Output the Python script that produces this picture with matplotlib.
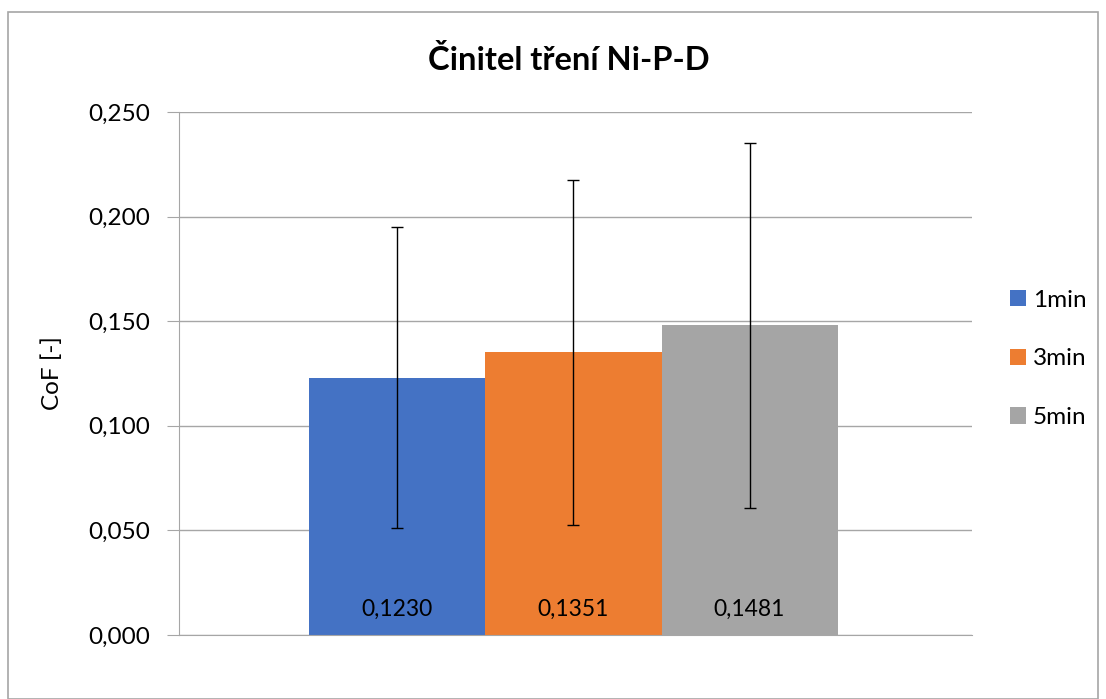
import matplotlib.pyplot as plt
from matplotlib.patches import Rectangle
from matplotlib.ticker import FuncFormatter

plt.rcParams["font.family"] = ["Lato", "DejaVu Sans"]

# data
series = ["1min", "3min", "5min"]
values = [0.1230, 0.1351, 0.1481]
errors = [0.0720, 0.0825, 0.0873]
colors = ["#4472C4", "#ED7D31", "#A5A5A5"]
yticks = [0.0, 0.05, 0.10, 0.15, 0.20, 0.25]

title = "Činitel tření Ni-P-D"
ylabel = "CoF [-]"


def comma_fmt(v, _pos=None, digits=3):
    return f"{v:.{digits}f}".replace(".", ",")


fig = plt.figure(figsize=(11.06, 6.99), dpi=100)
ax = fig.add_axes([179 / 1106, 1 - 635 / 699, (972 - 179) / 1106, (635 - 112) / 699])

width = 0.22
offsets = [-width, 0.0, width]
for name, val, err, col, off in zip(series, values, errors, colors, offsets):
    ax.bar(off, val, width=width, color=col, label=name, zorder=2)
    ax.errorbar(off, val, yerr=err, fmt="none", ecolor="black", elinewidth=1.0,
                capsize=4, capthick=1.0, zorder=3)
    ax.text(off, 0.0125, comma_fmt(val, digits=4), ha="center", va="center",
            fontsize=16.5, color="#000000", zorder=4)

ax.set_xlim(-0.493, 0.498)
ax.set_ylim(0, 0.25)
ax.set_yticks(yticks)
ax.yaxis.set_major_formatter(FuncFormatter(comma_fmt))
ax.set_xticks([])
ax.grid(axis="y", color="#A6A6A6", linewidth=1.0, zorder=0)
for side in ["top", "right"]:
    ax.spines[side].set_visible(False)
ax.spines["left"].set_color("#A6A6A6")
ax.spines["bottom"].set_color("#A6A6A6")
ax.tick_params(axis="y", length=9, color="#A6A6A6", labelsize=17.5, pad=12)
ax.set_ylabel(ylabel, fontsize=17.5, labelpad=18)

fig.text(569 / 1106, 1 - 60 / 699, title, ha="center", va="center",
         fontsize=23.5, fontweight="bold")

ax.legend(loc="center left", bbox_to_anchor=(1.02, 0.528), frameon=False,
          fontsize=17.5, handlelength=0.65, handleheight=0.65, handletextpad=0.3,
          labelspacing=1.55)

# outer chart border
fig.patches.append(Rectangle((8 / 1106, 0.0), (1098 - 8) / 1106, 1 - 12 / 699,
                             transform=fig.transFigure, fill=False,
                             edgecolor="#A6A6A6", linewidth=1.2))

fig.savefig("out.png", dpi=100)
